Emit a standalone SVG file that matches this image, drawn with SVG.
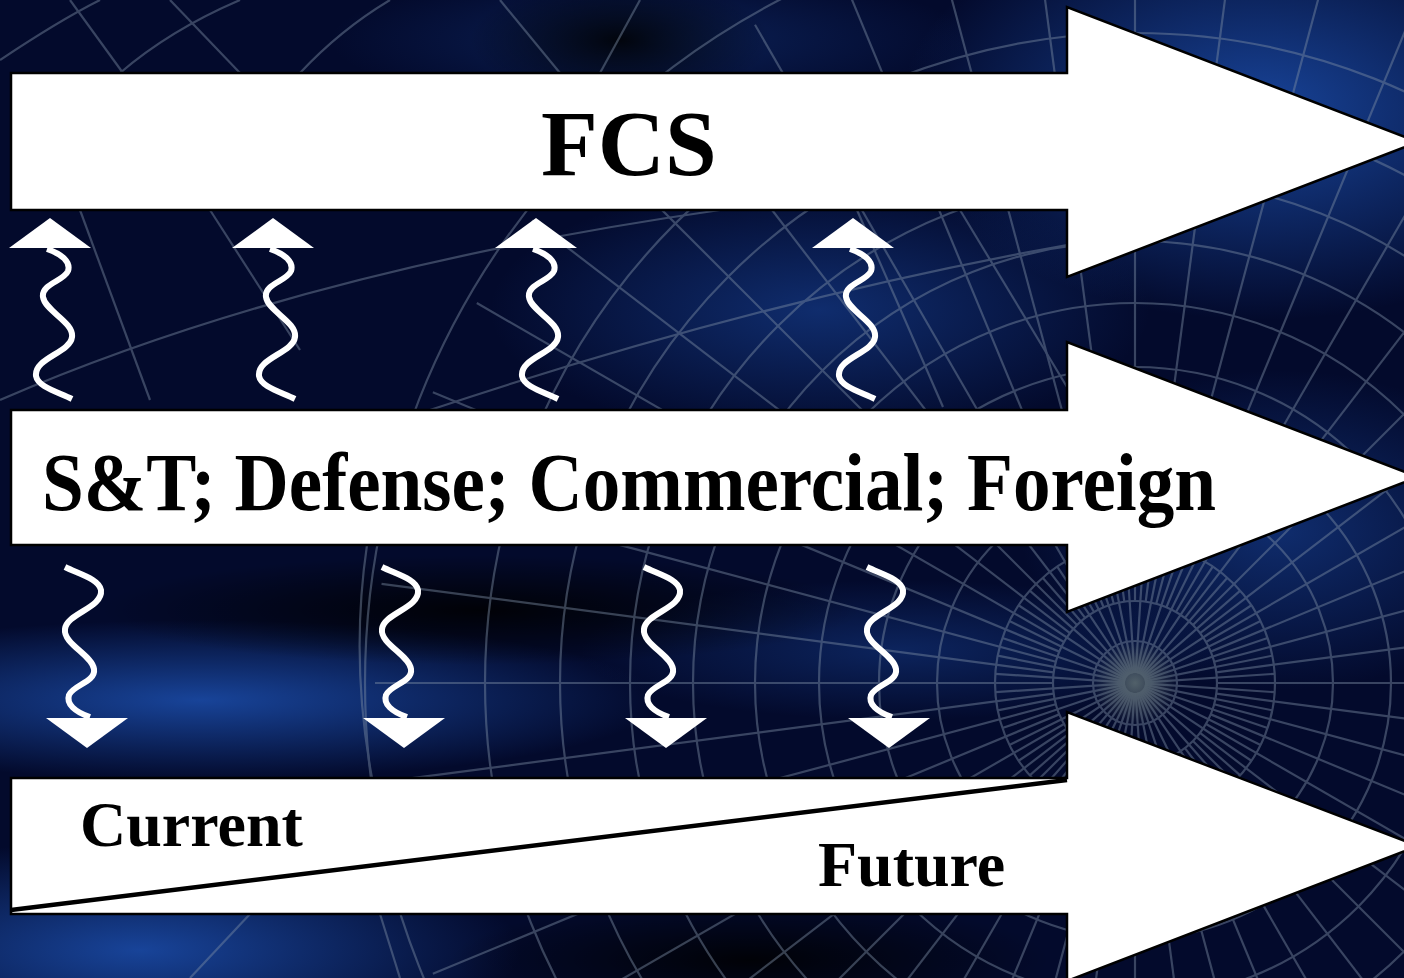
<svg xmlns="http://www.w3.org/2000/svg" xmlns:xlink="http://www.w3.org/1999/xlink" width="1404" height="978" viewBox="0 0 1404 978">
<defs>
<style>
.arrow{fill:#fff;stroke:#000;stroke-width:2.5;stroke-linejoin:miter}
.lbl{font-family:"Liberation Serif","Times New Roman",serif;font-weight:bold;fill:#000}
.grid{fill:none;stroke:#7b8ca3;stroke-width:2.2;opacity:.45}
.sq{fill:none;stroke:#fff;stroke-width:6}
.head{fill:#fff}
</style>
<radialGradient id="glow">
<stop offset="0" stop-color="#1d52b4" stop-opacity=".8"/>
<stop offset="1" stop-color="#1d52b4" stop-opacity="0"/>
</radialGradient>
<radialGradient id="dark">
<stop offset="0" stop-color="#000" stop-opacity=".85"/>
<stop offset="1" stop-color="#000" stop-opacity="0"/>
</radialGradient>
<radialGradient id="hub">
<stop offset="0" stop-color="#5a6a70" stop-opacity=".9"/>
<stop offset="1" stop-color="#5a6a70" stop-opacity="0"/>
</radialGradient>
<g id="sqUp">
<polygon class="head" points="0,0 41,30 -41,30"/>
<path class="sq" d="M -3 31 C 12 36 21 44 18 53 C 14 63 -9 66 -7 79 C -5 93 24 104 22 119 C 20 135 -16 140 -14 158 C -12 169 8 174 22 181"/>
</g>
<line id="ray" x1="82" y1="0" x2="760" y2="0"/>
<g id="ray6">
<use xlink:href="#ray"/>
<use xlink:href="#ray" transform="rotate(7.5)"/>
<use xlink:href="#ray" transform="rotate(15)"/>
<use xlink:href="#ray" transform="rotate(22.5)"/>
<use xlink:href="#ray" transform="rotate(30)"/>
<use xlink:href="#ray" transform="rotate(37.5)"/>
</g>
<line id="iray" x1="10" y1="0" x2="140" y2="0"/>
<g id="iray6">
<use xlink:href="#iray" transform="rotate(3.75)"/>
<use xlink:href="#iray" transform="rotate(11.25)"/>
<use xlink:href="#iray" transform="rotate(18.75)"/>
<use xlink:href="#iray" transform="rotate(26.25)"/>
<use xlink:href="#iray" transform="rotate(33.75)"/>
<use xlink:href="#iray" transform="rotate(41.25)"/>
</g>
</defs>

<g id="background">
<rect x="0" y="0" width="1404" height="978" fill="#030a2c"/>
<ellipse cx="1260" cy="110" rx="360" ry="210" fill="url(#glow)"/>
<ellipse cx="820" cy="310" rx="330" ry="130" fill="url(#glow)" opacity=".6"/>
<ellipse cx="200" cy="700" rx="460" ry="80" fill="url(#glow)"/>
<ellipse cx="140" cy="950" rx="380" ry="110" fill="url(#glow)"/>
<ellipse cx="650" cy="40" rx="320" ry="70" fill="url(#glow)" opacity=".4"/>
<ellipse cx="1280" cy="530" rx="260" ry="160" fill="url(#glow)" opacity=".6"/>
<ellipse cx="900" cy="650" rx="320" ry="70" fill="url(#glow)" opacity=".45"/>
<ellipse cx="480" cy="610" rx="380" ry="55" fill="url(#dark)"/>
<ellipse cx="750" cy="960" rx="300" ry="60" fill="url(#dark)"/>
<ellipse cx="620" cy="40" rx="150" ry="60" fill="url(#dark)"/>
<g class="grid">
<g transform="translate(1135,683)">
<circle r="42"/><circle r="82"/><circle r="140"/><circle r="198"/><circle r="256"/>
<circle r="316"/><circle r="380"/><circle r="442"/><circle r="505"/><circle r="575"/>
<circle r="650"/><circle r="770"/>
<use xlink:href="#ray6"/>
<use xlink:href="#ray6" transform="rotate(45)"/>
<use xlink:href="#ray6" transform="rotate(90)"/>
<use xlink:href="#ray6" transform="rotate(135)"/>
<use xlink:href="#ray6" transform="rotate(180)"/>
<use xlink:href="#ray6" transform="rotate(225)"/>
<use xlink:href="#ray6" transform="rotate(270)"/>
<use xlink:href="#ray6" transform="rotate(315)"/>
<use xlink:href="#iray6"/>
<use xlink:href="#iray6" transform="rotate(45)"/>
<use xlink:href="#iray6" transform="rotate(90)"/>
<use xlink:href="#iray6" transform="rotate(135)"/>
<use xlink:href="#iray6" transform="rotate(180)"/>
<use xlink:href="#iray6" transform="rotate(225)"/>
<use xlink:href="#iray6" transform="rotate(270)"/>
<use xlink:href="#iray6" transform="rotate(315)"/>
</g>
<path d="M 0 400 Q 300 270 720 210"/>
<path d="M 0 60 Q 60 20 100 0"/>
<path d="M 120 73 Q 170 30 240 0"/>
<path d="M 300 73 Q 340 30 390 0"/>
<path d="M 70 0 L 123 73"/>
<path d="M 170 0 L 240 73"/>
<path d="M 500 0 L 560 73"/>
<path d="M 600 73 L 640 0"/>
<path d="M 80 210 L 150 400"/>
<path d="M 210 210 L 300 350"/>
<path d="M 430 410 Q 760 300 1067 245"/>
<path d="M 857 210 L 943 407"/>
<path d="M 960 210 L 1067 387"/>
<path d="M 367 545 Q 350 660 372 778"/>
<path d="M 190 978 L 250 914"/>
<path d="M 400 978 L 380 914"/>
</g>
<circle cx="1135" cy="683" r="42" fill="url(#hub)"/>
</g>

<g id="fcs">
<polygon class="arrow" points="11,73 1067,73 1067,7 1418,142 1067,277 1067,210 11,210"/>
<text class="lbl" x="541" y="175" font-size="93">FCS</text>
</g>

<g id="sources">
<polygon class="arrow" points="11,410 1067,410 1067,342 1418,477 1067,612 1067,545 11,545"/>
<text class="lbl" x="42" y="510" font-size="82" textLength="1174" lengthAdjust="spacingAndGlyphs">S&amp;T; Defense; Commercial; Foreign</text>
</g>

<g id="current-future">
<polygon class="arrow" points="11,778 1067,778 1067,712 1418,846 1067,981 1067,914 11,914"/>
<line x1="11" y1="910" x2="1067" y2="780" stroke="#000" stroke-width="4.5"/>
<text class="lbl" x="80" y="846" font-size="64">Current</text>
<text class="lbl" x="818" y="886" font-size="64">Future</text>
</g>

<g id="connectors">
<use xlink:href="#sqUp" transform="translate(50,218)"/>
<use xlink:href="#sqUp" transform="translate(273,218)"/>
<use xlink:href="#sqUp" transform="translate(536,218)"/>
<use xlink:href="#sqUp" transform="translate(853,218)"/>
<use xlink:href="#sqUp" transform="translate(87,748) rotate(180)"/>
<use xlink:href="#sqUp" transform="translate(404,748) rotate(180)"/>
<use xlink:href="#sqUp" transform="translate(666,748) rotate(180)"/>
<use xlink:href="#sqUp" transform="translate(889,748) rotate(180)"/>
</g>
</svg>
